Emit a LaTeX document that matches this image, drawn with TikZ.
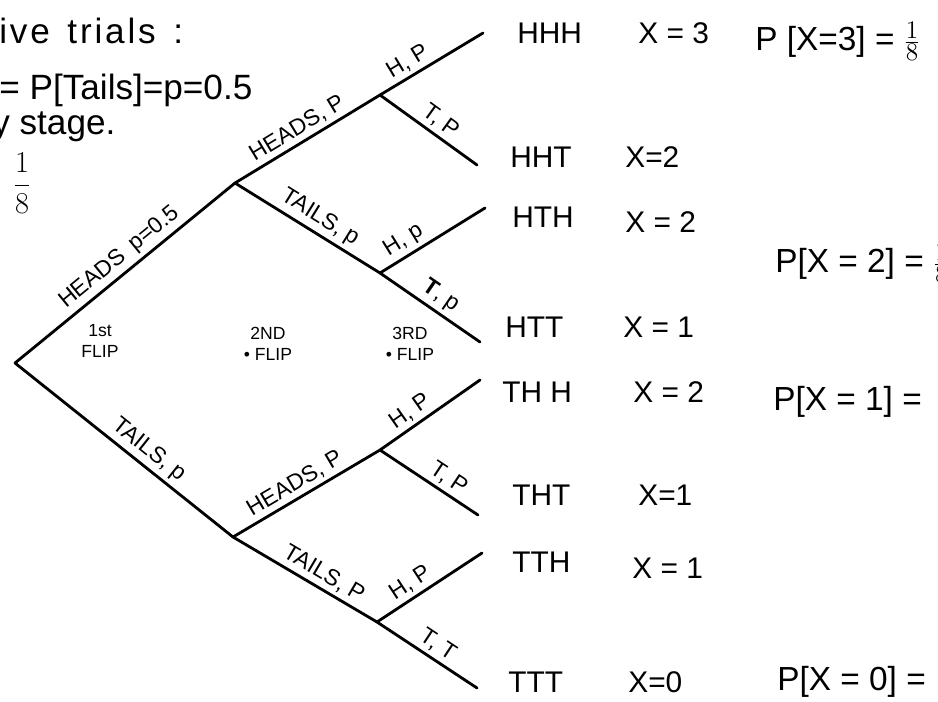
\documentclass[tikz,border=0pt]{standalone}
\usepackage{fontspec}
\setmainfont{Liberation Sans}
\begin{document}
\begin{tikzpicture}[x=0.02cm,y=-0.02cm,
  branch/.style={line width=1.6pt, line cap=round},
  blab/.style={font=\fontsize{13}{13}\selectfont, sloped, above, inner sep=2pt},
  leaf/.style={font=\fontsize{17}{17}\selectfont, anchor=base west, inner sep=0pt},
  prob/.style={font=\fontsize{19}{19}\selectfont, anchor=base west, inner sep=0pt},
  stagelab/.style={font=\fontsize{10}{12}\selectfont, align=center, inner sep=0pt},
  note/.style={font=\fontsize{20}{20}\selectfont, anchor=base west, inner sep=0pt}]
\useasboundingbox (0,0) rectangle (938,701);
\clip (0,0) rectangle (938,701);
% tree nodes
\coordinate (r) at (15,363);
\coordinate (h) at (235,183);
\coordinate (t) at (233,537);
\coordinate (hh) at (380,95);
\coordinate (ht) at (380,273);
\coordinate (th) at (380,450);
\coordinate (tt) at (377,622);
\coordinate (eHHH) at (483,33);
\coordinate (eHHT) at (477,165);
\coordinate (eHTH) at (485,208);
\coordinate (eHTT) at (480,342);
\coordinate (eTHH) at (480,380);
\coordinate (eTHT) at (478,515);
\coordinate (eTTH) at (482,553);
\coordinate (eTTT) at (477,688);
% branches
\draw[branch] (r) -- node[blab,pos=0.52] {HEADS\enspace p=0.5} (h);
\draw[branch] (r) -- node[blab,pos=0.57] {TAILS, p} (t);
\draw[branch] (h) -- node[blab,pos=0.48] {HEADS, P} (hh);
\draw[branch] (h) -- node[blab,pos=0.53] {TAILS, p} (ht);
\draw[branch] (t) -- node[blab,pos=0.47] {HEADS, P} (th);
\draw[branch] (t) -- node[blab,pos=0.58] {TAILS, P} (tt);
\draw[branch] (hh) -- node[blab,pos=0.34] {H, P} (eHHH);
\draw[branch] (hh) -- node[blab,pos=0.54] {T, P} (eHHT);
\draw[branch] (ht) -- node[blab,pos=0.30] {H, p} (eHTH);
\draw[branch] (ht) -- node[blab,pos=0.52] {\textbf{T}, p} (eHTT);
\draw[branch] (th) -- node[blab,pos=0.38] {H, P} (eTHH);
\draw[branch] (th) -- node[blab,pos=0.62] {T, P} (eTHT);
\draw[branch] (tt) -- node[blab,pos=0.39] {H, P} (eTTH);
\draw[branch] (tt) -- node[blab,pos=0.53] {T, T} (eTTT);
% stage labels
\node[stagelab] (s1) at (100,341) {1st\\FLIP};
\node[stagelab] (s2) at (268,344) {2ND\\\textbullet\ FLIP};
\node[stagelab] (s3) at (410,344) {3RD\\\textbullet\ FLIP};
% outcomes
\node[leaf] (oHHH) at (517,43) {HHH};
\node[leaf] (oHHT) at (510,167) {HHT};
\node[leaf] (oHTH) at (512,227) {HTH};
\node[leaf] (oHTT) at (505,337) {HTT};
\node[leaf] (oTHH) at (502,402) {TH H};
\node[leaf] (oTHT) at (512,505) {THT};
\node[leaf] (oTTH) at (512,572) {TTH};
\node[leaf] (oTTT) at (508,692) {TTT};
\node[leaf] (xHHH) at (638,43) {X = 3};
\node[leaf] (xHHT) at (625,167) {X=2};
\node[leaf] (xHTH) at (625,232) {X = 2};
\node[leaf] (xHTT) at (623,337) {X = 1};
\node[leaf] (xTHH) at (633,402) {X = 2};
\node[leaf] (xTHT) at (638,505) {X=1};
\node[leaf] (xTTH) at (632,578) {X = 1};
\node[leaf] (xTTT) at (628,692) {X=0};
% probabilities
\node[prob] (p3) at (755,50) {P [X=3] = $\frac{1}{8}$};
\node[prob] (p2) at (775,272) {P[X = 2] = $\frac{1}{8}$};
\node[prob] (p1) at (773,410) {P[X = 1] =};
\node[prob] (p0) at (777,690) {P[X = 0] =};
% notes top left
\node[note, font=\fontsize{20}{20}\selectfont\addfontfeature{LetterSpace=8}] (n1) at (-1,43) {ive\enspace trials\enspace :};
\node[note] (n2) at (-1,99) {= P[Tails]=p=0.5};
\node[note] (n3) at (-8,134) {y stage.};
\node[font=\fontsize{16}{16}\selectfont, inner sep=0pt] (n4) at (22,183) {$\displaystyle\frac{1}{8}$};
\end{tikzpicture}
\end{document}
